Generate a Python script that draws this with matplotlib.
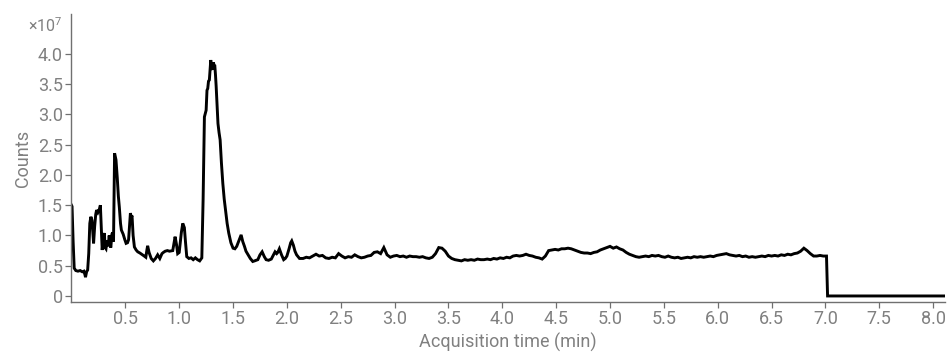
import matplotlib
matplotlib.use("Agg")
import matplotlib.pyplot as plt
import numpy as np

plt.rcParams['font.family'] = ['Roboto', 'DejaVu Sans']
plt.rcParams['mathtext.fontset'] = 'custom'
plt.rcParams['mathtext.rm'] = 'Roboto'
plt.rcParams['mathtext.it'] = 'Roboto'

# Early part of the chromatogram (min, counts x1e7)
early_time = [0.0, 0.005, 0.015, 0.025, 0.04, 0.06, 0.08, 0.10, 0.115, 0.125, 0.13, 0.14, 0.15,
              0.16, 0.17, 0.18, 0.19, 0.198, 0.205, 0.215, 0.225, 0.233, 0.245, 0.258, 0.268,
              0.275, 0.285, 0.295, 0.305, 0.312, 0.32, 0.33, 0.34, 0.35, 0.358, 0.365, 0.375,
              0.382, 0.39, 0.395, 0.40, 0.407, 0.413, 0.425, 0.435, 0.444, 0.455, 0.463, 0.48,
              0.495, 0.507, 0.52, 0.53, 0.54, 0.547, 0.555, 0.562, 0.572, 0.584, 0.60, 0.615,
              0.635, 0.66, 0.675, 0.69, 0.70, 0.707, 0.72, 0.74, 0.76, 0.78, 0.80, 0.82, 0.84,
              0.853, 0.87, 0.89, 0.91, 0.94, 0.952, 0.962, 0.975, 0.986, 1.0, 1.02, 1.033,
              1.048, 1.058, 1.07, 1.09, 1.11, 1.13, 1.15, 1.17, 1.19, 1.21, 1.222, 1.234,
              1.25, 1.258, 1.265, 1.272, 1.28, 1.287, 1.293, 1.30, 1.31, 1.318, 1.325, 1.33,
              1.337, 1.343, 1.352, 1.36, 1.37, 1.38, 1.392, 1.405, 1.418, 1.43, 1.445, 1.46,
              1.48, 1.50, 1.517, 1.534, 1.555, 1.575, 1.59, 1.606, 1.62, 1.64, 1.66, 1.683,
              1.70, 1.73, 1.75, 1.77, 1.79, 1.807, 1.83, 1.855, 1.875, 1.89, 1.905, 1.915,
              1.93, 1.95, 1.97, 1.985, 2.0, 2.02, 2.035, 2.045, 2.06, 2.075, 2.09, 2.117]
early_counts = [1.50, 1.48, 0.90, 0.46, 0.42, 0.41, 0.42, 0.40, 0.41, 0.35, 0.31, 0.40, 0.43,
                0.70, 1.20, 1.31, 1.25, 1.05, 0.87, 1.15, 1.35, 1.42, 1.38, 1.43, 1.50,
                1.20, 0.76, 0.95, 1.04, 0.80, 0.78, 0.92, 0.82, 1.00, 0.85, 0.80, 1.02,
                1.05, 0.90, 1.60, 2.36, 2.30, 2.25, 1.95, 1.65, 1.47, 1.20, 1.09, 1.02,
                0.93, 0.87, 0.88, 0.93, 1.20, 1.37, 1.30, 1.33, 1.00, 0.81, 0.76, 0.73,
                0.71, 0.68, 0.66, 0.64, 0.76, 0.83, 0.72, 0.62, 0.58, 0.62, 0.68, 0.62, 0.70,
                0.72, 0.74, 0.75, 0.74, 0.75, 0.88, 0.98, 0.85, 0.70, 0.72, 1.05, 1.20,
                1.13, 0.90, 0.65, 0.62, 0.63, 0.60, 0.63, 0.60, 0.58, 0.63, 1.60, 2.96,
                3.07, 3.40, 3.43, 3.55, 3.57, 3.75, 3.90, 3.78, 3.74, 3.86, 3.80, 3.82,
                3.65, 3.47, 3.15, 2.85, 2.70, 2.58, 2.20, 1.86, 1.60, 1.42, 1.20, 1.04,
                0.88, 0.79, 0.78, 0.82, 0.92, 1.01, 0.90, 0.82, 0.74, 0.68, 0.62, 0.57,
                0.58, 0.60, 0.68, 0.73, 0.65, 0.60, 0.59, 0.61, 0.68, 0.73, 0.70, 0.72,
                0.78, 0.68, 0.60, 0.62, 0.66, 0.78, 0.88, 0.91, 0.84, 0.74, 0.68, 0.62]

# Baseline region sampled every 0.03 min from 2.15 min
baseline_start = 2.15
baseline_step = 0.03
baseline_counts = [0.62, 0.64, 0.63, 0.66, 0.69, 0.66, 0.67, 0.63, 0.62, 0.64,
                   0.63, 0.70, 0.66, 0.63, 0.65, 0.64, 0.68, 0.65, 0.63, 0.64,
                   0.66, 0.67, 0.72, 0.73, 0.70, 0.80, 0.68, 0.64, 0.66, 0.67,
                   0.65, 0.66, 0.64, 0.66, 0.65, 0.65, 0.64, 0.65, 0.63, 0.62,
                   0.64, 0.70, 0.80, 0.79, 0.74, 0.66, 0.62, 0.60, 0.59, 0.58,
                   0.60, 0.59, 0.60, 0.59, 0.61, 0.60, 0.60, 0.61, 0.60, 0.62,
                   0.61, 0.63, 0.62, 0.64, 0.63, 0.66, 0.67, 0.66, 0.67, 0.69,
                   0.67, 0.66, 0.64, 0.63, 0.61, 0.66, 0.75, 0.76, 0.77, 0.76,
                   0.78, 0.78, 0.79, 0.78, 0.76, 0.74, 0.72, 0.71, 0.71, 0.70,
                   0.72, 0.73, 0.76, 0.78, 0.80, 0.82, 0.79, 0.81, 0.78, 0.76,
                   0.72, 0.69, 0.67, 0.65, 0.64, 0.65, 0.66, 0.65, 0.67, 0.66,
                   0.67, 0.65, 0.64, 0.66, 0.64, 0.63, 0.64, 0.62, 0.63, 0.64,
                   0.63, 0.65, 0.64, 0.65, 0.64, 0.65, 0.66, 0.65, 0.67, 0.68,
                   0.69, 0.70, 0.68, 0.67, 0.66, 0.67, 0.65, 0.66, 0.64, 0.65,
                   0.64, 0.65, 0.66, 0.65, 0.67, 0.66, 0.67, 0.66, 0.68, 0.67,
                   0.69, 0.68, 0.70, 0.71, 0.74, 0.79, 0.75, 0.70, 0.66, 0.66,
                   0.67, 0.66, 0.66]

# After the acquisition stops
tail_time = [7.02, 8.11]
tail_counts = [0.0, 0.0]

x_ticks = [0.5, 1.0, 1.5, 2.0, 2.5, 3.0, 3.5, 4.0, 4.5, 5.0, 5.5, 6.0, 6.5, 7.0, 7.5, 8.0]
y_ticks = [0, 0.5, 1.0, 1.5, 2.0, 2.5, 3.0, 3.5, 4.0]
y_labels = ["0", "0.5", "1.0", "1.5", "2.0", "2.5", "3.0", "3.5", "4.0"]

baseline_time = [baseline_start + baseline_step * i for i in range(len(baseline_counts))]
t = np.array(early_time + baseline_time + tail_time)
c = np.array(early_counts + baseline_counts + tail_counts)

fig = plt.figure(figsize=(9.5, 3.52), dpi=100)
ax = fig.add_axes([0.0747, 0.142, 0.92, 0.818])
ax.plot(t, c, color="black", lw=2.1, solid_joinstyle="miter")

ax.set_xlim(-0.005, 8.11)
ax.set_ylim(-0.1, 4.66)
ax.set_xticks(x_ticks)
ax.set_xticklabels([f"{v:.1f}" for v in x_ticks])
ax.set_yticks(y_ticks)
ax.set_yticklabels(y_labels)

spine_c = "#707070"
text_c = "#808080"
for s in ["top", "right"]:
    ax.spines[s].set_visible(False)
for s in ["left", "bottom"]:
    ax.spines[s].set_color(spine_c)
    ax.spines[s].set_linewidth(1.0)
ax.tick_params(axis="both", colors=spine_c, labelcolor=text_c, labelsize=13, length=4, width=0.9, pad=2)

ax.set_xlabel("Acquisition time (min)", color=text_c, fontsize=13, labelpad=3)
ax.set_ylabel("Counts", color=text_c, fontsize=13, labelpad=4)
fig.text(0.029, 0.927, r"×10$^{7}$", color=text_c, fontsize=11.5, va="center", ha="left")

fig.savefig("out.png", dpi=100)
